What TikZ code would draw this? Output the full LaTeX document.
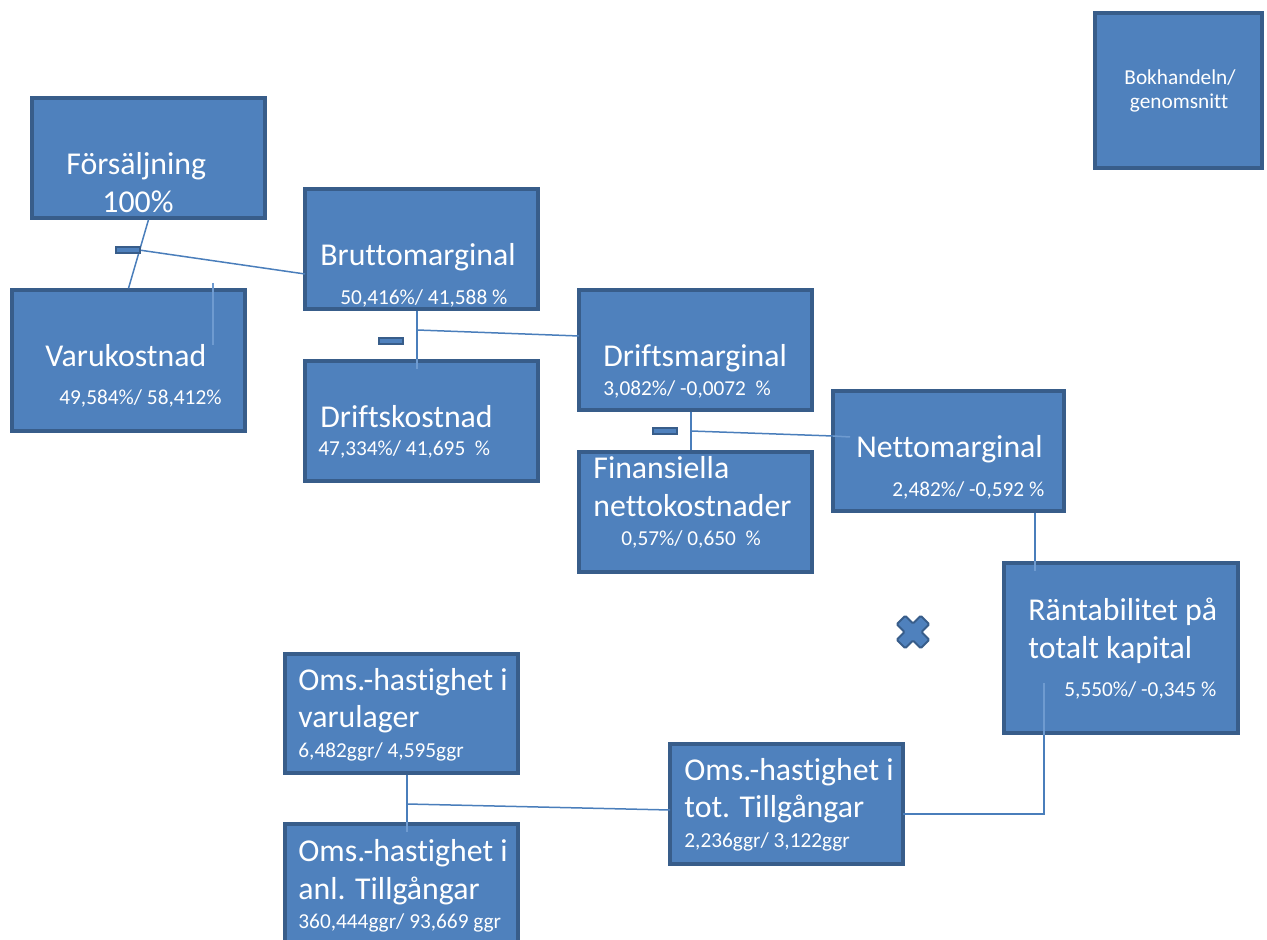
\documentclass[tikz,border=0pt]{standalone}
\usepackage{fontspec}
\setmainfont{Carlito}[Ligatures=NoCommon]
\usetikzlibrary{fit,calc}
\definecolor{boxfill}{HTML}{4F81BD}
\definecolor{boxedge}{HTML}{385D8A}
\definecolor{wirecol}{HTML}{4A7EBB}
\definecolor{wirelight}{HTML}{6F9BD0}
\begin{document}
\begin{tikzpicture}[x=0.5pt,y=-0.5pt,
  box/.style={fill=boxfill,draw=boxedge,line width=1.7pt,inner sep=0pt},
  big/.style={text=white,inner sep=0pt,anchor=base west,font=\fontsize{15.9}{19}\selectfont},
  small/.style={text=white,inner sep=0pt,anchor=base west,font=\fontsize{10.65}{13}\selectfont},
  wire/.style={draw=wirecol,line width=0.75pt},
  faint/.style={draw=wirelight,line width=0.75pt},
  minus/.style={fill=boxfill,draw=boxedge,line width=1pt,minimum width=12pt,minimum height=3pt,inner sep=0pt}]
\useasboundingbox (0,0) rectangle (1267,940);
\clip (0,0) rectangle (1267,940);

% boxes
\node[box,fit={(32,98)(265,218)}]   (fs) {};
\node[box,fit={(12,290)(245,431)}]  (vk) {};
\node[box,fit={(305,189)(538,309)}] (bm) {};
\node[box,fit={(305,361)(538,481)}] (dk) {};
\node[box,fit={(579,290)(812,410)}] (dm) {};
\node[box,fit={(579,452)(812,572)}] (fn) {};
\node[box,fit={(833,391)(1064,511)}] (nm) {};
\node[box,fit={(1004,563)(1238,733)}] (rt) {};
\node[box,fit={(285,654)(518,773)}] (vl) {};
\node[box,fit={(285,824)(518,990)}] (al) {};
\node[box,fit={(670,744)(903,864)}] (tt) {};
\node[box,fit={(1095,13)(1262,168)}] (bh) {};

% junction points and attach points
\coordinate (j1) at ($(fs.south)!0.443!(vk.north)$);
\coordinate (bmL) at (305,274);
\coordinate (s1) at (213,283);
\coordinate (s2) at (213,345);
\coordinate (j2) at (417,330);
\coordinate (dmL) at (579,336);
\coordinate (j3) at (691,431);
\coordinate (nmL) at (833,436);
\coordinate (nmIn) at (850,437);
\coordinate (c4) at (1035,0);
\coordinate (rtIn) at (1044,683);
\coordinate (k1) at (1044,814);
\coordinate (ttR) at (903,814);
\coordinate (j4) at (407,804);
\coordinate (ttL) at (670,810);

% connectors
\draw[wire] (fs.south) -- (vk.north);
\draw[wire] (j1) -- (bmL);
\draw[faint] (s1) -- (s2);
\draw[wire] (bm.south -| j2) -- (dk.north -| j2);
\draw[faint] (dk.north -| j2) -- ++(0,10);
\draw[wire] (j2) -- (dmL);
\draw[wire] (dm.south -| j3) -- (fn.north -| j3);
\draw[wire] (j3) -- (nmL);
\draw[faint] (nmL) -- (nmIn);
\draw[wire] (nm.south -| c4) -- (rt.north -| c4);
\draw[faint] (rt.north -| c4) -- ++(0,10);
\draw[faint] (rtIn) -- (rt.south -| rtIn);
\draw[wire] (rt.south -| rtIn) -- (k1) -- (ttR);
\draw[wire] (vl.south -| j4) -- (al.north -| j4);
\draw[faint] (al.north -| j4) -- ++(0,10);
\draw[wire] (j4) -- (ttL);

% minus signs
\node[minus] (mn1) at (128,250) {};
\node[minus] (mn2) at (391,341) {};
\node[minus] (mn3) at (665,431) {};

% multiplication sign
\begin{scope}[shift={(913,632)},rotate=45]
  \draw[fill=boxfill,draw=boxedge,line width=1pt,rounded corners=0.6pt]
    (-17,-6) -- (-6,-6) -- (-6,-17) -- (6,-17) -- (6,-6) -- (17,-6)
    -- (17,6) -- (6,6) -- (6,17) -- (-6,17) -- (-6,6) -- (-17,6) -- cycle;
\end{scope}

% labels
\node[big] (t1) at (66,175) {Försäljning};
\node[big] (t2) at (102,213) {100\%};
\node[big] (t3) at (45,367) {Varukostnad};
\node[small] (t4) at (59,405) {49,584\%/ 58,412\%};
\node[big] (t5) at (320,266) {Bruttomarginal};
\node[small] (t6) at (340,305) {50,416\%/ 41,588 \%};
\node[big] (t7) at (320,428) {Driftskostnad};
\node[small] (t8) at (318,455) {47,334\%/ 41,695\ \ \%};
\node[big] (t9) at (603,367) {Driftsmarginal};
\node[small] (t10) at (603,396) {3,082\%/ -0,0072\ \ \%};
\node[big] (t11) at (593,478) {Finansiella};
\node[big] (t12) at (593,516) {nettokostnader};
\node[small] (t13) at (621,545) {0,57\%/ 0,650\ \ \%};
\node[big] (t14) at (856,458) {Nettomarginal};
\node[small] (t15) at (892,496) {2,482\%/ -0,592 \%};
\node[big] (t16) at (1028,620) {Räntabilitet på};
\node[big] (t17) at (1028,658) {totalt kapital};
\node[small] (t18) at (1064,696) {5,550\%/ -0,345 \%};
\node[big] (t19) at (298,690) {Oms.-hastighet i};
\node[big] (t20) at (298,727) {varulager};
\node[small] (t21) at (298,757) {6,482ggr/ 4,595ggr};
\node[big] (t22) at (298,861) {Oms.-hastighet i};
\node[big] (t23) at (298,899) {anl. Tillgångar};
\node[small] (t24) at (298,928) {360,444ggr/ 93,669 ggr};
\node[big] (t25) at (684,780) {Oms.-hastighet i};
\node[big] (t26) at (684,817) {tot. Tillgångar};
\node[small] (t27) at (684,847) {2,236ggr/ 3,122ggr};
\node[small,anchor=base] (t28) at (1180,85) {Bokhandeln/};
\node[small,anchor=base] (t29) at (1179,109) {genomsnitt};
\end{tikzpicture}
\end{document}
